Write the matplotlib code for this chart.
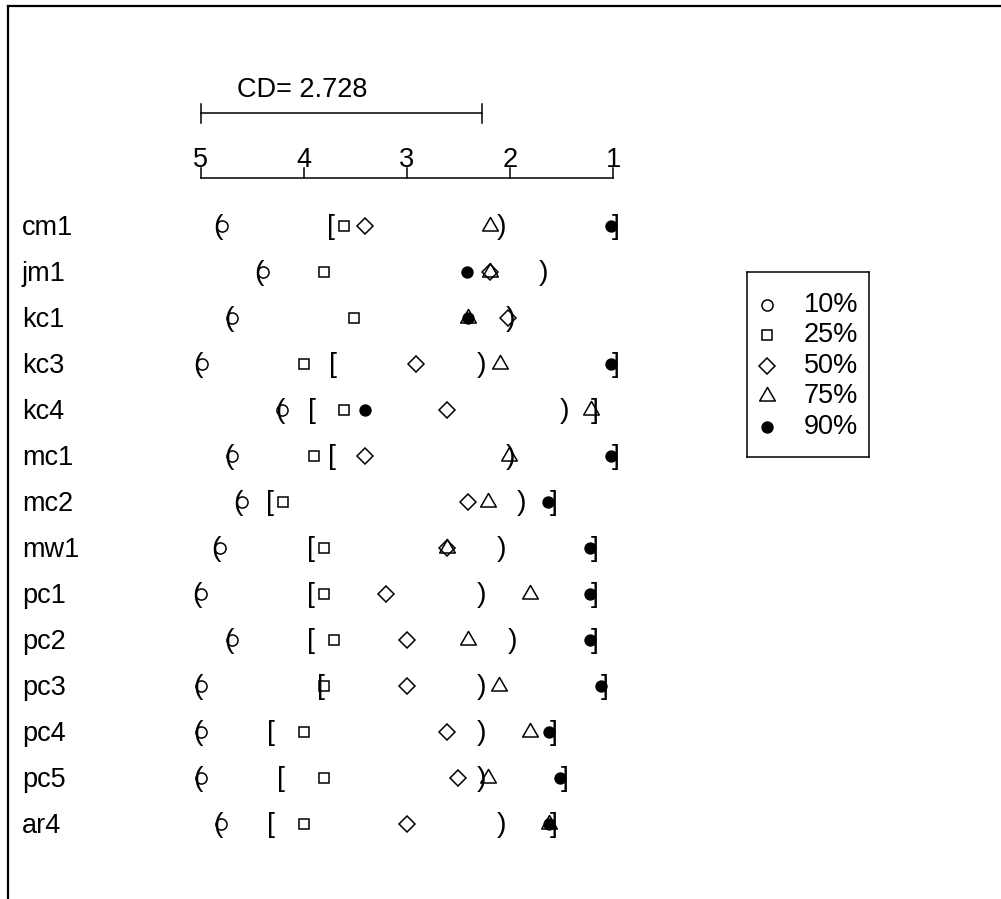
import numpy as np
import matplotlib
matplotlib.use("Agg")
import matplotlib.pyplot as plt
from matplotlib.path import Path
from matplotlib.lines import Line2D

plt.rcParams['font.family'] = ['Liberation Sans', 'DejaVu Sans']

# ---------------- data ----------------
datasets = ['cm1', 'jm1', 'kc1', 'kc3', 'kc4', 'mc1', 'mc2', 'mw1',
            'pc1', 'pc2', 'pc3', 'pc4', 'pc5', 'ar4']
p10 = [4.79, 4.40, 4.70, 4.99, 4.21, 4.70, 4.60, 4.81, 5.00, 4.70, 5.00, 5.00, 5.00, 4.80]
p25 = [3.61, 3.80, 3.51, 4.00, 3.61, 3.90, 4.20, 3.80, 3.80, 3.71, 3.80, 4.00, 3.80, 4.00]
p50 = [3.41, 2.20, 2.02, 2.91, 2.61, 3.41, 2.41, 2.61, 3.20, 3.00, 3.00, 2.61, 2.51, 3.00]
p75 = [2.20, 2.20, 2.41, 2.10, 1.22, 2.01, 2.21, 2.61, 1.81, 2.41, 2.11, 1.81, 2.21, 1.62]
p90 = [1.02, 2.42, 2.41, 1.02, 3.41, 1.02, 1.63, 1.23, 1.23, 1.23, 1.12, 1.62, 1.52, 1.62]
nan = np.nan
open_round = [4.83, 4.43, 4.73, 5.03, 4.23, 4.73, 4.64, 4.85, 5.04, 4.73, 5.03, 5.03, 5.03, 4.83]
open_square = [3.74, nan, nan, 3.715, 3.925, 3.725, 4.33, 3.935, 3.935, 3.93, 3.83, 4.32, 4.22, 4.32]
close_round = [2.08, 1.68, 2.00, 2.28, 1.47, 2.00, 1.89, 2.08, 2.28, 1.98, 2.28, 2.28, 2.28, 2.08]
close_square = [0.98, nan, nan, 0.98, 1.18, 0.98, 1.58, 1.18, 1.18, 1.18, 1.08, 1.58, 1.47, 1.58]
cd_value = 2.728
rank_ticks = [5, 4, 3, 2, 1]
legend_labels = ['10%', '25%', '50%', '75%', '90%']

# ---------------- figure ----------------
W, H = 1001, 899
fig = plt.figure(figsize=(W / 100, H / 100), dpi=100)
ax = fig.add_axes([0, 0, 1, 1])
ax.set_axis_off()

# pixel geometry of the rank scale
px5, px_per_rank = 200.7, 103.15
row0, row_step = 226.0, 46.0
ax.set_xlim(5 + px5 / px_per_rank, 5 - (W - px5) / px_per_rank)
ax.set_ylim((H - row0) / row_step, -row0 / row_step)

def ry(py):
    return (py - row0) / row_step

FS = 19.5
FS_BR = 20.5
LW = 1.1

# outer frame (left and top edges visible)
fig.add_artist(Line2D([8 / W, 8 / W], [0, 1 - 6 / H], color='black', lw=1.6,
                      transform=fig.transFigure))
fig.add_artist(Line2D([8 / W, 1], [1 - 6 / H, 1 - 6 / H], color='black', lw=1.6,
                      transform=fig.transFigure))

# rank axis
y_axis = ry(178)
ax.plot([max(rank_ticks), min(rank_ticks)], [y_axis, y_axis], color='black', lw=LW)
for t in rank_ticks:
    ax.plot([t, t], [y_axis, ry(168)], color='black', lw=LW)
    ax.text(t, ry(167), str(t), ha='center', va='baseline', fontsize=FS)

# CD bar
y_cd = ry(113)
x_cd0 = max(rank_ticks)
x_cd1 = x_cd0 - cd_value
ax.plot([x_cd0, x_cd1], [y_cd, y_cd], color='black', lw=LW)
for xv in (x_cd0, x_cd1):
    ax.plot([xv, xv], [ry(104), ry(123)], color='black', lw=LW)
ax.text(x_cd0 - (237 - px5) / px_per_rank, ry(97), 'CD= %.3f' % cd_value,
        ha='left', va='baseline', fontsize=FS)

# row labels
rows = np.arange(len(datasets))
for i, name in enumerate(datasets):
    ax.text(5 + (px5 - 22) / px_per_rank, i + 9 / row_step, name,
            ha='left', va='baseline', fontsize=FS)

# brackets
def draw_glyphs(vals, ch):
    for i, v in enumerate(vals):
        if not np.isnan(v):
            ax.text(v, i + 1 / row_step, ch, ha='center', va='center', fontsize=FS_BR)

draw_glyphs(open_round, '(')
draw_glyphs(open_square, '[')
draw_glyphs(close_round, ')')
draw_glyphs(close_square, ']')

# markers
tri = Path([(-1, -0.5774), (1, -0.5774), (0, 1.1547), (-1, -0.5774)],
           [Path.MOVETO, Path.LINETO, Path.LINETO, Path.CLOSEPOLY])
styles = [
    dict(marker='o', ms=8.0, mfc='none'),
    dict(marker='s', ms=7.7, mfc='none'),
    dict(marker='D', ms=8.2, mfc='none'),
    dict(marker=tri, ms=13.0, mfc='none'),
    dict(marker='o', ms=7.8, mfc='black'),
]
series = [p10, p25, p50, p75, p90]
for vals, st in zip(series, styles):
    ax.plot(vals, rows, ls='none', color='black', mec='black', mew=1.1, **st)

# legend box
lx0, ly0, lx1, ly1 = 746.7, 271.7, 869.3, 456.7
lax = fig.add_axes([lx0 / W, 1 - ly1 / H, (lx1 - lx0) / W, (ly1 - ly0) / H])
lax.set_xlim(0, 1)
lax.set_ylim(1, 0)
lax.set_xticks([])
lax.set_yticks([])
for s in lax.spines.values():
    s.set_linewidth(1.1)
leg_y = [(py - ly0) / (ly1 - ly0) for py in (305, 335, 366, 396, 427)]
mx = (766.7 - lx0) / (lx1 - lx0)
tx = (804 - lx0) / (lx1 - lx0)
for yv, lab, st in zip(leg_y, legend_labels, styles):
    lax.plot([mx], [yv], ls='none', color='black', mec='black', mew=1.1, **st)
    lax.text(tx, yv, lab, ha='left', va='center', fontsize=FS)

fig.savefig('out.png', dpi=100)
